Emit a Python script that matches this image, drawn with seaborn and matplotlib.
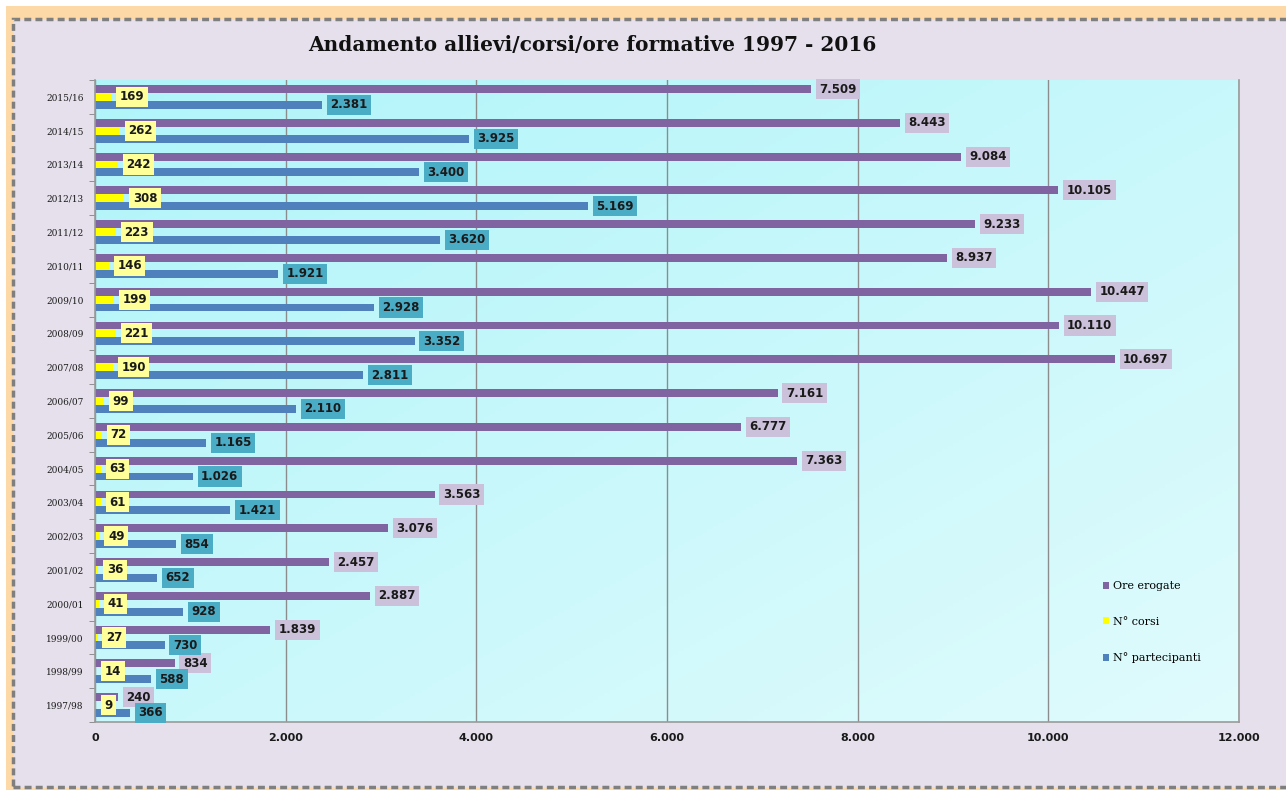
import numpy as np
import pandas as pd
import seaborn as sns
import matplotlib.pyplot as plt
from matplotlib.patches import Rectangle, Patch

# dati (dall'alto verso il basso)
anni = ["2015/16", "2014/15", "2013/14", "2012/13", "2011/12", "2010/11", "2009/10",
        "2008/09", "2007/08", "2006/07", "2005/06", "2004/05", "2003/04", "2002/03",
        "2001/02", "2000/01", "1999/00", "1998/99", "1997/98"]
ore = [7509, 8443, 9084, 10105, 9233, 8937, 10447, 10110, 10697, 7161, 6777, 7363,
       3563, 3076, 2457, 2887, 1839, 834, 240]
corsi = [169, 262, 242, 308, 223, 146, 199, 221, 190, 99, 72, 63, 61, 49, 36, 41, 27, 14, 9]
partecipanti = [2381, 3925, 3400, 5169, 3620, 1921, 2928, 3352, 2811, 2110, 1165, 1026,
                1421, 854, 652, 928, 730, 588, 366]

serie = ["Ore erogate", "N° corsi", "N° partecipanti"]
colori = ["#8064A2", "#FFFF00", "#4F81BD"]
sfondi_etichette = ["#CCC1DA", "#FFFF99", "#4BACC6"]
x_ticks = list(range(0, 12001, 2000))

df = pd.DataFrame({
    "Anno": anni * 3,
    "Serie": [s for s in serie for _ in anni],
    "Valore": ore + corsi + partecipanti,
})

def fmt(v):
    return f"{int(v):,}".replace(",", ".")

W, H = 1286, 790
fig = plt.figure(figsize=(W / 100, H / 100), dpi=100, facecolor="white")

# cornice arancione + bordo tratteggiato grigio
fig.patches.append(Rectangle((6 / W, -0.01), 1.0, 1 - 6 / H + 0.01, transform=fig.transFigure,
                             fc="#FDD9A8", ec="none", zorder=-3))
fig.patches.append(Rectangle((13 / W, 3 / H), 1.0, (H - 22) / H, transform=fig.transFigure,
                             fc="#E6E0EC", ec="#7f7f7f", lw=2.5, ls=(0, (2, 1.2)), zorder=-2))

pos = [95 / W, 1 - 722 / H, 1144 / W, 642 / H]

# sfondo sfumato dell'area del grafico
bg = fig.add_axes(pos, zorder=0)
bg.axis("off")
gx, gy = np.meshgrid(np.linspace(0, 1, 200), np.linspace(0, 1, 200))
t = (gx + gy) / 2
c1 = np.array([0.69, 0.96, 0.98])
c2 = np.array([0.88, 0.985, 0.99])
img = c1[None, None, :] * (1 - t[..., None]) + c2[None, None, :] * t[..., None]
bg.imshow(img, extent=[0, 1, 0, 1], aspect="auto", origin="upper")

ax = fig.add_axes(pos, zorder=1)
ax.set_facecolor("none")

sns.barplot(data=df, y="Anno", x="Valore", hue="Serie", order=anni, hue_order=serie,
            palette=colori, saturation=1, width=0.7, orient="h", legend=False, ax=ax)

for cont, bgc in zip(ax.containers, sfondi_etichette):
    ax.bar_label(cont, labels=[fmt(v) for v in cont.datavalues], padding=6,
                 fontsize=8.5, fontweight="bold", color="#1a1a1a",
                 bbox=dict(boxstyle="square,pad=0.3", fc=bgc, ec="none"))

ax.set_xlim(0, 12000)
ax.set_xticks(x_ticks)
ax.set_xticklabels([fmt(v) for v in x_ticks], fontsize=8, fontweight="bold", color="#1a1a1a")
ax.tick_params(axis="x", length=0, pad=8)
ax.set_yticks(range(len(anni)))
ax.set_yticklabels(anni, fontsize=6.5, family="DejaVu Serif", color="#1a1a1a")
ax.tick_params(axis="y", which="major", length=0, pad=8)
ax.set_yticks(np.arange(-0.5, len(anni), 1), minor=True)
ax.tick_params(axis="y", which="minor", length=4, color="#808080")
ax.set_xlabel("")
ax.set_ylabel("")

ax.grid(axis="x", color="#8c8c8c", lw=1)
ax.set_axisbelow(True)
ax.spines["top"].set_visible(False)
for s in ["left", "bottom", "right"]:
    ax.spines[s].set_color("#9a9a9a")
    ax.spines[s].set_linewidth(1.2)

handles = [Patch(fc=c, ec="none") for c in colori]
ax.legend(handles, serie, loc="upper left", bbox_to_anchor=(0.872, 0.235), frameon=False,
          handlelength=0.6, handleheight=0.6, handletextpad=0.3, labelspacing=2.3,
          prop=dict(family="DejaVu Serif", size=8))

fig.text(592 / W, 1 - 45 / H, "Andamento allievi/corsi/ore formative 1997 - 2016",
         ha="center", va="center", fontsize=14.5, fontweight="bold", family="DejaVu Serif",
         color="#111111")

fig.savefig("out.png", dpi=100, facecolor=fig.get_facecolor())
